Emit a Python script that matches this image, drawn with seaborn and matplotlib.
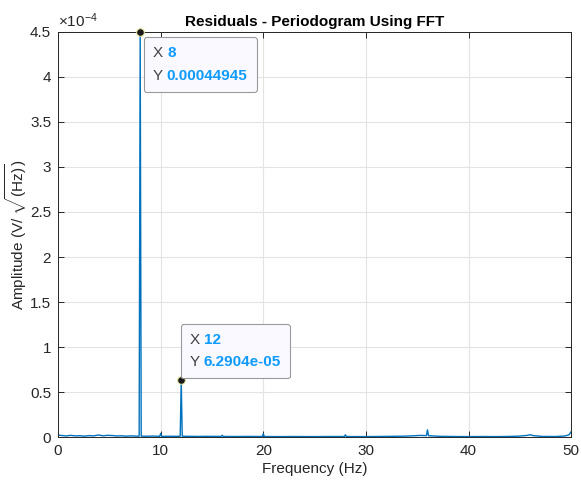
import matplotlib
matplotlib.use("Agg")
import matplotlib.pyplot as plt
import seaborn as sns
import pandas as pd
from matplotlib.offsetbox import TextArea, HPacker, VPacker, AnnotationBbox

# Spectrum points (Hz, amplitude in V/sqrt(Hz))
freq = [0.0, 0.3, 0.8, 1.2, 1.7, 2.1, 2.6, 3.0, 3.5, 3.9, 4.4, 4.8, 5.3, 5.7, 6.2, 6.6, 7.1,
        7.5, 7.9, 8.0, 8.1, 8.6, 9.2, 9.9, 10.0, 10.1, 10.8, 11.5, 11.9, 12.0, 12.1, 12.8,
        13.6, 14.5, 15.9, 16.0, 16.1, 17.2, 18.5, 19.9, 20.0, 20.1, 21.4, 23.0, 24.6, 26.2,
        27.9, 28.0, 28.1, 29.5, 31.0, 32.5, 33.8, 34.6, 35.3, 35.9, 36.0, 36.1, 37.2, 38.6,
        40.0, 41.4, 42.8, 44.0, 44.9, 45.7, 46.0, 46.3, 47.2, 48.5, 49.4, 49.8, 50.0]
amp = [2.2e-6, 1.8e-6, 1.2e-6, 1.9e-6, 1.3e-6, 1.5e-6, 1.0e-6, 1.6e-6, 1.3e-6, 2.3e-6, 1.4e-6,
       1.9e-6, 1.7e-6, 1.2e-6, 1.4e-6, 1.0e-6, 1.3e-6,
       1.1e-6, 1.0e-6, 4.4945e-4, 1.0e-6, 0.9e-6, 1.1e-6, 0.8e-6, 4.0e-6, 0.8e-6, 0.9e-6,
       0.8e-6, 0.9e-6, 6.2904e-5, 0.9e-6, 0.8e-6,
       0.7e-6, 0.8e-6, 0.7e-6, 2.0e-6, 0.7e-6, 0.6e-6, 0.7e-6, 0.6e-6, 3.5e-6, 0.6e-6, 0.5e-6,
       0.6e-6, 0.5e-6, 0.6e-6,
       0.6e-6, 2.5e-6, 0.6e-6, 0.5e-6, 0.6e-6, 0.8e-6, 1.0e-6, 1.4e-6, 1.8e-6, 1.6e-6, 8.0e-6,
       1.5e-6, 0.8e-6, 0.6e-6,
       0.5e-6, 0.6e-6, 0.5e-6, 0.7e-6, 1.0e-6, 1.8e-6, 2.6e-6, 1.6e-6, 0.7e-6, 0.6e-6, 1.2e-6,
       2.5e-6, 6.0e-6]

# Datatips
tip_x = [8, 12]
tip_y = [4.4945e-4, 6.2904e-05]
tip_text = ["0.00044945", "6.2904e-05"]

df = pd.DataFrame({"Frequency": freq, "Amplitude": [a * 1e4 for a in amp]})

sns.set_style("whitegrid")
plt.rcParams["font.family"] = ["Liberation Sans", "DejaVu Sans"]
plt.rcParams["mathtext.fontset"] = "custom"
plt.rcParams["mathtext.rm"] = "Liberation Sans"
plt.rcParams["mathtext.it"] = "Liberation Sans:italic"

fig, ax = plt.subplots(figsize=(5.81, 4.84), dpi=100)
fig.subplots_adjust(left=0.1, right=0.983, top=0.934, bottom=0.097)

sns.lineplot(data=df, x="Frequency", y="Amplitude", ax=ax, color="#0072BD",
             linewidth=1.0, estimator=None, sort=False)

ax.set_xlim(0, 50)
ax.set_ylim(0, 4.5)
ax.set_xticks([0, 10, 20, 30, 40, 50])
ax.set_yticks([0, 0.5, 1, 1.5, 2, 2.5, 3, 3.5, 4, 4.5])
ax.set_yticklabels(["0", "0.5", "1", "1.5", "2", "2.5", "3", "3.5", "4", "4.5"])
ax.grid(True, color="#e3e3e3", linewidth=0.8)
for s in ax.spines.values():
    s.set_color("#262626")
    s.set_linewidth(0.7)
    s.set_visible(True)
ax.tick_params(direction="in", length=4, width=0.7, color="#262626", labelsize=11,
               labelcolor="#262626", top=True, right=True, bottom=True, left=True, pad=5)

ax.set_xlabel("Frequency (Hz)", fontsize=11, color="#262626", labelpad=3)
ax.set_ylabel(r"Amplitude (V/ $\sqrt{\mathrm{(Hz)}}$)", fontsize=11, color="#262626", labelpad=1)
ax.set_title("Residuals - Periodogram Using FFT", fontsize=11, fontweight="bold", color="black", pad=4)
ax.text(0.0, 1.005, r"$\times10^{-4}$", transform=ax.transAxes, fontsize=11, color="#262626",
        ha="left", va="bottom")

# Datatip markers and boxes
offsets = [((9, -10), (0, 1)), ((6, 8), (0, 0))]
for x, y, t, (off, align) in zip(tip_x, tip_y, tip_text, offsets):
    ax.plot([x], [y * 1e4], "o", color="#1a1a1a", markersize=5.5, markeredgecolor="#e8e6a0",
            markeredgewidth=0.7, clip_on=False, zorder=5)
    row1 = HPacker(children=[TextArea("X ", textprops=dict(color="#404040", fontsize=11)),
                             TextArea(str(x), textprops=dict(color="#0e9aff", fontsize=11, fontweight="bold"))],
                   pad=0, sep=0)
    row2 = HPacker(children=[TextArea("Y ", textprops=dict(color="#404040", fontsize=11)),
                             TextArea(t, textprops=dict(color="#0e9aff", fontsize=11, fontweight="bold"))],
                   pad=0, sep=0)
    box = VPacker(children=[row1, row2], pad=0, sep=6)
    ab = AnnotationBbox(box, (x, y * 1e4), xybox=off, xycoords="data", boxcoords="offset points",
                        box_alignment=align, frameon=True, pad=0.65,
                        bboxprops=dict(boxstyle="round,pad=0.65,rounding_size=0.2",
                                       fc="#f9f9ff", ec="#9a9a9a", lw=0.8))
    ab.set_zorder(6)
    ax.add_artist(ab)

plt.savefig("out.png", dpi=100)
